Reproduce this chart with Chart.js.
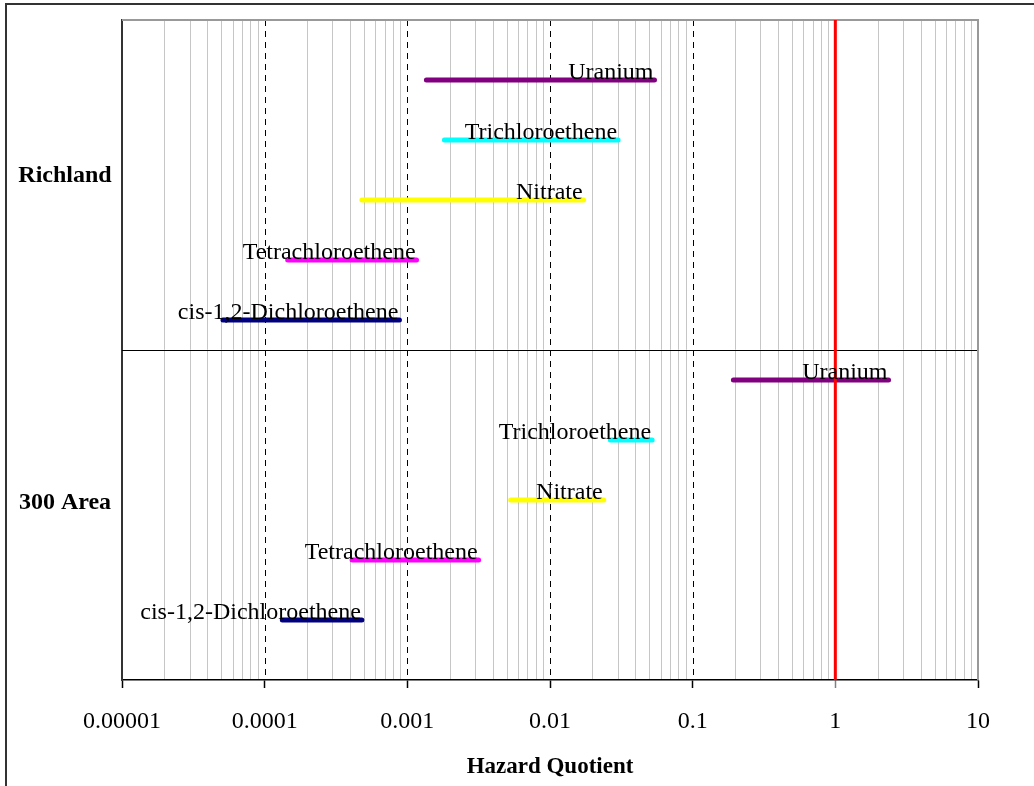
<!DOCTYPE html>
<html>
<head>
<meta charset="utf-8">
<script src="https://cdn.jsdelivr.net/npm/chart.js@4"></script>
<style>
  html, body { margin: 0; padding: 0; background: #fff; }
  #frame { position: absolute; left: 5px; top: 3px; width: 1040px; height: 800px;
           border-left: 2px solid #333; border-top: 2px solid #333; }
  #wrap { position: absolute; left: 0; top: 0; width: 1034px; height: 786px; }
</style>
</head>
<body>
<div id="frame"></div>
<div id="wrap"><canvas id="chart" width="1034" height="786"></canvas></div>
<script>
// data
const groups = ["Richland", "300 Area"];
const chemicals = ["Uranium", "Trichloroethene", "Nitrate", "Tetrachloroethene", "cis-1,2-Dichloroethene"];
const richlandLow = [0.00136, 0.00182, 0.00048, 0.000145, 0.000051];
const richlandHigh = [0.054, 0.030, 0.0172, 0.00116, 0.00088];
const area300Low = [0.193, 0.0265, 0.0053, 0.00041, 0.000133];
const area300High = [2.36, 0.052, 0.0238, 0.00316, 0.00048];
const xTickLabels = ["0.00001", "0.0001", "0.001", "0.01", "0.1", "1", "10"];
const dashedAt = [0.0001, 0.001, 0.01, 0.1];
const threshold = 1;

const colors = ["#800080", "#00FFFF", "#FFFF00", "#FF00FF", "#000080"];
const serif = "'Liberation Serif', 'Times New Roman', serif";

function isDecade(v) {
    const l = Math.log10(v);
    return Math.abs(l - Math.round(l)) < 1e-9;
}

// one line dataset per bar, rows 1..5 then 6..10
const datasets = [];
const barLabels = [];
[[richlandLow, richlandHigh], [area300Low, area300High]].forEach((g, gi) => {
    chemicals.forEach((name, i) => {
        const row = gi * 5 + i + 1;
        datasets.push({
            data: [{ x: g[0][i], y: row }, { x: g[1][i], y: row }],
            borderColor: colors[i],
            borderWidth: 5,
            borderCapStyle: "round",
            pointRadius: 0,
            showLine: true
        });
        barLabels.push({ text: name, x: g[1][i], y: row });
    });
});

const overlay = {
    id: "overlay",
    beforeDatasetsDraw(chart) {
        const { ctx, chartArea: a, scales: { x, y } } = chart;
        ctx.save();
        ctx.strokeStyle = "#000";
        ctx.lineWidth = 1;
        ctx.setLineDash([6, 5]);
        dashedAt.forEach(v => {
            const px = Math.round(x.getPixelForValue(v)) + 0.5;
            ctx.beginPath();
            ctx.moveTo(px, a.top);
            ctx.lineTo(px, a.bottom);
            ctx.stroke();
        });
        ctx.setLineDash([]);
        // group divider
        const dy = Math.round(y.getPixelForValue(5.5)) + 0.5;
        ctx.beginPath();
        ctx.moveTo(a.left, dy);
        ctx.lineTo(a.right, dy);
        ctx.stroke();
        // top and right frame
        ctx.strokeStyle = "#999";
        ctx.lineWidth = 2;
        ctx.beginPath();
        ctx.moveTo(a.left, a.top);
        ctx.lineTo(a.right, a.top);
        ctx.lineTo(a.right, a.bottom);
        ctx.stroke();
        ctx.restore();
    },
    afterDatasetsDraw(chart) {
        const { ctx, chartArea: a, scales: { x, y } } = chart;
        ctx.save();
        ctx.strokeStyle = "#FF0000";
        ctx.lineWidth = 3;
        const rx = x.getPixelForValue(threshold);
        ctx.beginPath();
        ctx.moveTo(rx, a.top);
        ctx.lineTo(rx, a.bottom);
        ctx.stroke();

        ctx.fillStyle = "#000";
        ctx.font = "24px " + serif;
        ctx.textAlign = "right";
        ctx.textBaseline = "alphabetic";
        barLabels.forEach(l => {
            ctx.fillText(l.text, x.getPixelForValue(l.x) - 1, y.getPixelForValue(l.y) - 1);
        });

        // group names on the left
        ctx.font = "bold 24px " + serif;
        ctx.textAlign = "center";
        ctx.textBaseline = "middle";
        ctx.fillText(groups[0], 65, y.getPixelForValue(2.6));
        ctx.fillText(groups[1], 65, y.getPixelForValue(8.05));
        ctx.restore();
    }
};

new Chart(document.getElementById("chart"), {
    type: "scatter",
    data: { datasets },
    options: {
        responsive: false,
        animation: false,
        devicePixelRatio: 1,
        layout: { padding: { left: 0, top: 20, right: 56, bottom: 0 } },
        plugins: { legend: { display: false }, tooltip: { enabled: false } },
        scales: {
            x: {
                type: "logarithmic",
                min: 0.00001,
                max: 10,
                afterFit(s) { s.height = 106; },
                afterBuildTicks(s) {
                    const t = [];
                    for (let e = -5; e <= 0; e++) {
                        for (let m = 1; m <= 9; m++) {
                            t.push({ value: parseFloat((m * Math.pow(10, e)).toPrecision(6)) });
                        }
                    }
                    t.push({ value: 10 });
                    s.ticks = t;
                },
                ticks: {
                    autoSkip: false,
                    maxRotation: 0,
                    padding: 19,
                    color: "#000",
                    font: { family: serif, size: 24 },
                    callback(v) {
                        if (!isDecade(v)) return "";
                        return xTickLabels[Math.round(Math.log10(v)) + 5];
                    }
                },
                grid: {
                    color: c => (c.tick && isDecade(c.tick.value)) ? "rgba(0,0,0,0)" : "#c6c6c6",
                    lineWidth: 1,
                    tickLength: 8,
                    tickColor: c => {
                        if (!c.tick || !isDecade(c.tick.value)) return "rgba(0,0,0,0)";
                        return c.tick.value === 1 ? "#808080" : "#000";
                    },
                    tickWidth: 1.5
                },
                border: { display: true, color: "#000", width: 1.5 },
                title: {
                    display: true,
                    text: "Hazard Quotient",
                    color: "#000",
                    font: { family: serif, size: 23, weight: "bold" },
                    padding: { top: 0, bottom: 5 }
                }
            },
            y: {
                type: "linear",
                min: 0,
                max: 11,
                reverse: true,
                afterFit(s) { s.width = 122; },
                ticks: { display: false },
                grid: { display: false },
                border: { display: true, color: "#333", width: 2 }
            }
        }
    },
    plugins: [overlay]
});
</script>
</body>
</html>
